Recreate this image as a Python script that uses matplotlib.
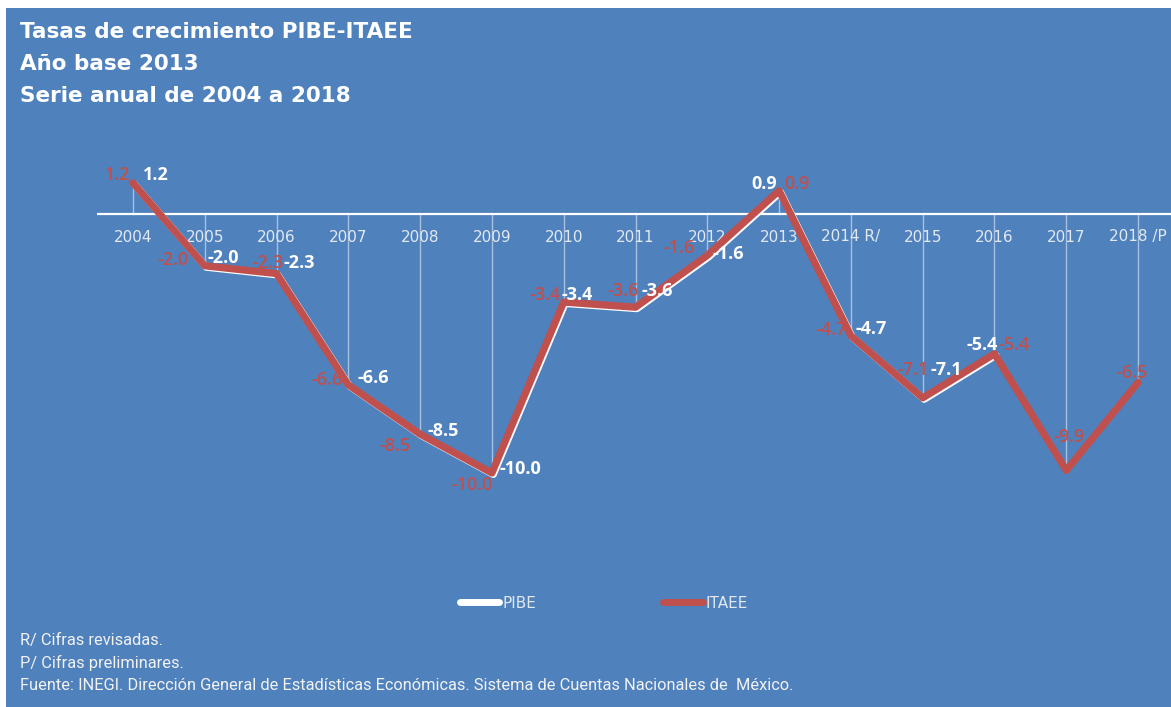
import matplotlib
matplotlib.use("Agg")
import matplotlib.pyplot as plt
import matplotlib.transforms as mtransforms
from matplotlib.patches import Rectangle
from matplotlib.lines import Line2D
import numpy as np

# ---- data ----
categories = ["2004", "2005", "2006", "2007", "2008", "2009", "2010", "2011",
              "2012", "2013", "2014 R/", "2015", "2016", "2017", "2018 /P"]
pibe = [1.2, -2.0, -2.3, -6.6, -8.5, -10.0, -3.4, -3.6, -1.6, 0.9, -4.7, -7.1, -5.4, None, None]
itaee = [1.2, -2.0, -2.3, -6.6, -8.5, -10.0, -3.4, -3.6, -1.6, 0.9, -4.7, -7.1, -5.4, -9.9, -6.5]

title_lines = ["Tasas de crecimiento PIBE-ITAEE", "Año base 2013", "Serie anual de 2004 a 2018"]
notes = ["R/ Cifras revisadas.", "P/ Cifras preliminares.",
         "Fuente: INEGI. Dirección General de Estadísticas Económicas. Sistema de Cuentas Nacionales de  México."]

# label placement (pixel offsets, ha) -- styling only
itaee_lab = [(-3, 8, 'right'), (-16, 6, 'right'), (7, 11, 'right'), (-6, 5, 'right'),
             (-10, -12, 'right'), (1, -12, 'right'), (-3, 7, 'right'), (3, 16, 'right'),
             (-13, 7, 'right'), (5, 7, 'left'), (-4, 6, 'right'), (6, 28, 'right'),
             (4, 9, 'left'), (3, 33, 'center'), (-6, 9, 'center')]
pibe_lab = [(10, 8, 'left'), (3, 8, 'left'), (7, 11, 'left'), (9, 7, 'left'),
            (7, 3, 'left'), (8, 4, 'left'), (-2, 7, 'left'), (6, 16, 'left'),
            (5, 1, 'left'), (-2, 7, 'right'), (5, 7, 'left'), (8, 28, 'left'),
            (3, 9, 'right'), None, None]

BLUE = "#4F81BD"
RED = "#C0504D"

W, H = 1171, 707
fig = plt.figure(figsize=(W / 100, H / 100), dpi=100, facecolor="white")
fig.patches.append(Rectangle((6 / W, 0), 1 - 6 / W, 1 - 8 / H, transform=fig.transFigure,
                             facecolor=BLUE, edgecolor="none", zorder=-10))

# axes: x from 97px to 1174px; y axis: zero at 214px, 25.9 px per unit
px_per = 25.9
top_px, bot_px = 140, 580
ymax = (214 - top_px) / px_per
ymin = -(bot_px - 214) / px_per
ax = fig.add_axes([97 / W, 1 - bot_px / H, (1174 - 97) / W, (bot_px - top_px) / H])
ax.set_zorder(5)
ax.patch.set_visible(False)
ax.set_xlim(-0.5, len(categories) - 0.5)
ax.set_ylim(ymin, ymax)
for s in ax.spines.values():
    s.set_visible(False)
ax.set_xticks([])
ax.set_yticks([])
ax.axhline(0, color="white", lw=1.6, zorder=2)

x = np.arange(len(categories))
# drop lines
for i in range(len(categories)):
    v = itaee[i]
    ax.plot([i, i], [0, v], color="white", lw=1.0, alpha=0.5, zorder=1)

# category labels
for i, c in enumerate(categories):
    ax.text(i, -23 / px_per, c, ha="center", va="center", color="#E3E9F2",
            fontsize=11, family="DejaVu Sans", zorder=3, clip_on=False)

pibe_x = [i for i, v in enumerate(pibe) if v is not None]
pibe_y = [v for v in pibe if v is not None]
shift = mtransforms.offset_copy(ax.transData, fig=fig, x=1.5, y=-1.5, units="dots")
ax.plot(pibe_x, pibe_y, color="white", lw=5.0, solid_joinstyle="round",
        solid_capstyle="round", transform=shift, zorder=4)
ax.plot(x, itaee, color=RED, lw=5.2, solid_joinstyle="round", solid_capstyle="round", zorder=5)

# data labels
for i, v in enumerate(itaee):
    dx, dy, ha = itaee_lab[i]
    ax.annotate(f"{v:.1f}", (i, v), xytext=(dx, dy), textcoords="offset pixels",
                ha=ha, va="center", color=RED, fontsize=13, fontweight="semibold",
                family="Open Sans", zorder=6)
for i, v in enumerate(pibe):
    if v is None:
        continue
    dx, dy, ha = pibe_lab[i]
    ax.annotate(f"{v:.1f}", (i, v), xytext=(dx, dy), textcoords="offset pixels",
                ha=ha, va="center", color="white", fontsize=13, fontweight="bold",
                family="Open Sans", zorder=7)

# title
for k, t in enumerate(title_lines):
    fig.text(20 / W, 1 - (32 + 32 * k) / H, t, ha="left", va="center", color="white",
             fontsize=15.5, fontweight="bold", family="DejaVu Sans")

# legend
leg_handles = [Line2D([], [], color="white", lw=5, solid_capstyle="round"),
               Line2D([], [], color=RED, lw=5, solid_capstyle="round")]
leg = fig.legend(leg_handles, ["PIBE", "ITAEE"], loc="center", bbox_to_anchor=(604 / W, 1 - 603 / H),
                 ncol=2, frameon=False, handlelength=2.6, handletextpad=0.2,
                 columnspacing=8.3, labelcolor="#E0E8F2", prop={"family": "DejaVu Sans", "size": 11})

# notes
for k, t in enumerate(notes):
    fig.text(20 / W, 1 - (640 + 22.5 * k) / H, t, ha="left", va="center", color="#F2F2F2",
             fontsize=11.8, family=["Roboto", "DejaVu Sans"])

fig.savefig("out.png", dpi=100, facecolor="white")
